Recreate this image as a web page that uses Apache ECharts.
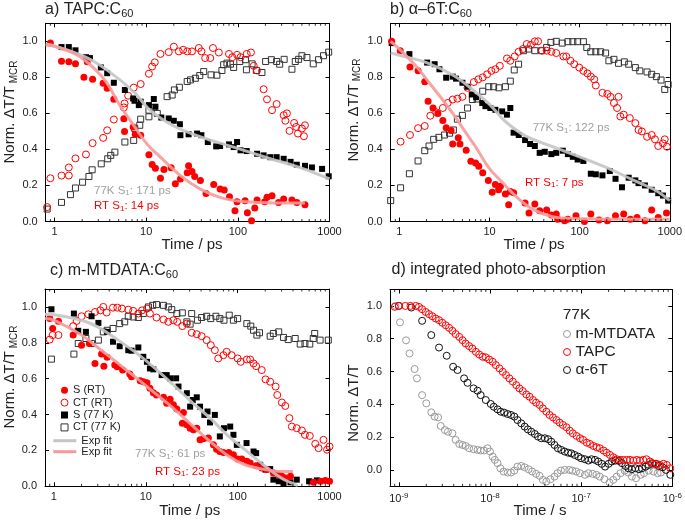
<!DOCTYPE html>
<html><head><meta charset="utf-8">
<script src="https://cdn.jsdelivr.net/npm/echarts@6/dist/echarts.min.js"></script>
<style>html,body{margin:0;padding:0;background:#fff}#c{width:685px;height:521px}</style>
</head><body><div id="c"></div>
<script>
// ---------- Panel a) TAPC:C60 (time in ps) ----------
const aSRT = [[0.9,0.99],[1.19,0.89],[1.43,0.886],[1.69,0.875],[2.09,0.80],[2.27,0.886],[2.6,0.79],[3.39,0.767],[3.75,0.74],[4.43,0.678],[5.7,0.57],[5.8,0.50],[7.2,0.525],[7.6,0.484],[8.7,0.478],[10.7,0.37],[11.6,0.317],[12.6,0.296],[14.3,0.24],[15.6,0.289],[18.7,0.298],[20.8,0.21],[23.6,0.236],[28,0.27],[29,0.31],[31.6,0.277],[33.8,0.25],[39,0.227],[45,0.156],[54.5,0.205],[64,0.18],[71,0.175],[81,0.138],[93,0.06],[98,0.11],[120,0.115],[127,0.048],[141,0.004],[153,0.075],[162,0.12],[196,0.11],[208,0.134],[236,0.143],[278,0.106],[316,0.125],[389,0.12],[440,0.106],[540,0.093]];
const aCTRT = [[0.83,0.08],[0.9,0.24],[1.19,0.255],[1.43,0.30],[1.43,0.255],[1.69,0.35],[2.2,0.372],[2.6,0.435],[3.39,0.464],[3.75,0.506],[4.43,0.566],[5.7,0.633],[5.8,0.655],[6.35,0.698],[7.3,0.743],[8.7,0.763],[10.7,0.82],[11.6,0.86],[12.4,0.883],[14.3,0.93],[17.6,0.94],[20,0.97],[22.7,0.944],[25.3,0.953],[28,0.944],[31.6,0.944],[37.5,0.963],[40,0.944],[44,0.907],[50,0.907],[53.5,0.963],[62,0.938],[80,0.93],[87,0.912],[98,0.925],[107,0.912],[125,0.93],[139,0.938],[149,0.864],[162,0.838],[191,0.734],[208,0.678],[236,0.618],[265,0.652],[316,0.59],[330,0.559],[343,0.60],[366,0.503],[411,0.547],[433,0.525],[452,0.488],[500,0.516],[526,0.473],[540,0.534]];
const aS77 = [[1.19,0.968],[1.43,0.968],[1.69,0.95],[2.2,0.912],[2.43,0.907],[3.2,0.855],[3.75,0.823],[4.43,0.77],[5.85,0.73],[7.2,0.683],[7.45,0.67],[8.3,0.646],[8.7,0.665],[10.7,0.646],[12.1,0.68],[12.6,0.637],[14.6,0.577],[17.6,0.572],[20,0.559],[23.3,0.54],[23.6,0.479],[29,0.484],[35.9,0.488],[40,0.479],[47,0.441],[58,0.417],[64,0.419],[80,0.428],[90,0.413],[98,0.441],[107,0.395],[125,0.391],[162,0.376],[191,0.367],[226,0.357],[265,0.357],[316,0.348],[376,0.331],[440,0.315],[540,0.309],[643,0.30],[830,0.292],[980,0.251]];
const aCT77 = [[0.83,0.069],[1.19,0.106],[1.49,0.149],[1.69,0.186],[2.02,0.218],[2.37,0.25],[2.57,0.287],[3.23,0.32],[3.8,0.348],[4.1,0.367],[4.55,0.385],[5.85,0.441],[7.3,0.45],[7.5,0.516],[8.5,0.534],[8.7,0.568],[10.7,0.581],[10.7,0.618],[12.1,0.633],[13.2,0.60],[16.9,0.693],[19.2,0.702],[20.3,0.73],[23,0.745],[28,0.777],[30.4,0.786],[34.4,0.795],[38.4,0.81],[42.4,0.832],[51,0.814],[59,0.812],[67,0.838],[70,0.87],[76,0.879],[83,0.873],[90,0.855],[105,0.888],[121,0.898],[124,0.842],[143,0.875],[159,0.838],[183,0.827],[201,0.888],[232,0.898],[265,0.888],[286,0.873],[320,0.90],[389,0.845],[423,0.888],[460,0.90],[500,0.92],[567,0.91],[665,0.875],[760,0.898],[860,0.92],[980,0.94]];
const aFit77 = [[0.8,0.985],[1,0.975],[2.1,0.916],[3.75,0.84],[7.3,0.72],[11,0.618],[20,0.53],[39,0.47],[90,0.413],[208,0.354],[470,0.30],[1000,0.236]];
const aFitRT = [[0.8,0.98],[1,0.972],[1.76,0.925],[2.7,0.85],[3.75,0.767],[5,0.655],[7.3,0.534],[10.2,0.43],[14.3,0.357],[23.6,0.255],[39,0.18],[64,0.134],[107,0.112],[208,0.104],[540,0.102]];

// ---------- Panel b) α-6T:C60 ----------
const bSRT = [[0.82,1.0],[1.02,0.948],[1.31,0.858],[1.61,0.836],[1.91,0.776],[2.08,0.667],[2.36,0.63],[2.67,0.60],[3.03,0.56],[3.3,0.52],[3.74,0.505],[3.9,0.43],[4.5,0.465],[4.7,0.43],[5.5,0.396],[6.2,0.335],[7.0,0.325],[7.6,0.307],[8.4,0.27],[9.7,0.228],[10.7,0.163],[11.6,0.206],[12.6,0.176],[13.2,0.196],[15,0.153],[16.3,0.093],[17,0.166],[18.5,0.159],[24.8,0.103],[27.4,0.047],[31.8,0.097],[36,0.06],[43,0.064],[48.5,0.036],[55,0.041],[57,0.013],[68,0.004],[74,0.013],[91,0.032],[113,0.0],[133,0.041],[164,0.009],[203,0.004],[250,0.032],[308,0.041],[366,0.013],[433,0.022],[530,0.004],[630,0.064],[745,0.022],[920,0.047]];
const bCTRT = [[0.79,0.419],[1.03,0.443],[1.31,0.48],[1.61,0.518],[1.91,0.53],[2.2,0.587],[2.56,0.606],[3.03,0.63],[3.44,0.658],[3.9,0.677],[4.4,0.682],[5.0,0.692],[5.7,0.742],[6.7,0.774],[7.5,0.789],[8.4,0.80],[9.4,0.817],[10.5,0.836],[11.6,0.845],[13.0,0.864],[15.6,0.905],[17,0.892],[19,0.916],[21,0.942],[23.4,0.957],[25.9,0.985],[28.8,0.98],[31.8,1.0],[34.6,1.0],[38.2,0.948],[43,0.948],[48.5,0.942],[55,0.935],[66,0.916],[71,0.916],[79,0.892],[87,0.873],[99,0.854],[110,0.836],[122,0.822],[133,0.804],[145,0.789],[151,0.755],[179,0.714],[203,0.708],[220,0.692],[240,0.658],[260,0.63],[270,0.692],[283,0.583],[308,0.593],[360,0.574],[415,0.546],[450,0.508],[490,0.50],[560,0.47],[630,0.48],[685,0.456],[745,0.419],[840,0.434],[880,0.456],[930,0.415]];
const bS77 = [[0.82,0.99],[1.29,0.929],[2.03,0.882],[2.46,0.873],[2.78,0.845],[3.3,0.798],[3.9,0.804],[4.25,0.793],[5.0,0.77],[5.7,0.748],[6.35,0.705],[7.1,0.69],[8.3,0.658],[9.0,0.64],[10.2,0.63],[11.6,0.62],[13.8,0.611],[15.6,0.593],[17,0.63],[18.5,0.493],[21.1,0.48],[24.8,0.452],[28.2,0.43],[31.8,0.419],[36,0.381],[41,0.387],[48.5,0.374],[55,0.381],[65,0.393],[74,0.374],[84,0.359],[95,0.344],[110,0.336],[133,0.265],[151,0.262],[179,0.256],[216,0.28],[250,0.237],[295,0.19],[350,0.243],[415,0.228],[450,0.213],[530,0.20],[630,0.176],[745,0.157],[840,0.144],[960,0.116]];
const bCT77 = [[0.8,0.116],[1.03,0.187],[1.29,0.265],[1.61,0.336],[1.91,0.393],[2.13,0.419],[2.4,0.456],[2.74,0.467],[3.16,0.48],[3.6,0.49],[3.97,0.508],[4.4,0.568],[5.0,0.589],[5.7,0.63],[6.45,0.677],[7.3,0.68],[8.4,0.723],[9.8,0.748],[11.1,0.748],[12.7,0.742],[15,0.748],[17,0.779],[18.8,0.841],[21,0.873],[23.8,0.948],[27,0.957],[31.8,0.948],[37.8,0.948],[43,0.966],[48,0.994],[55,1.0],[64,0.99],[74,0.998],[84,0.998],[95,0.998],[110,0.998],[120,0.966],[133,0.942],[151,0.942],[171,0.942],[194,0.935],[211,0.892],[240,0.90],[270,0.878],[313,0.886],[350,0.873],[415,0.854],[465,0.836],[560,0.83],[630,0.817],[710,0.804],[800,0.785],[880,0.733],[960,0.76]];
const bFit77 = [[0.8,0.935],[1,0.923],[2,0.882],[4,0.81],[7,0.718],[10,0.65],[15,0.555],[25,0.475],[50,0.415],[100,0.359],[200,0.299],[400,0.228],[700,0.172],[1000,0.116]];
const bFitRT = [[0.8,1.0],[1,0.957],[1.5,0.867],[2,0.789],[3,0.677],[4,0.593],[5.5,0.49],[7,0.415],[10,0.293],[15,0.2],[20,0.135],[30,0.069],[50,0.026],[80,0.017],[200,0.013],[1000,0.013]];

// ---------- Panel c) m-MTDATA:C60 ----------
const cSRT = [[0.9,0.935],[0.97,0.88],[1.12,0.92],[1.62,0.843],[2.0,0.787],[2.43,0.796],[2.8,0.685],[3.3,0.737],[3.5,0.67],[3.8,0.72],[4.6,0.676],[4.9,0.667],[5.6,0.648],[6.7,0.626],[7.0,0.611],[8.7,0.589],[9.4,0.583],[10.3,0.578],[11.1,0.546],[12.1,0.522],[13.1,0.509],[15.6,0.496],[16.9,0.463],[18.4,0.485],[20,0.454],[21.8,0.431],[25.7,0.411],[25,0.352],[28,0.343],[30.4,0.324],[33,0.315],[35.9,0.324],[39,0.259],[42.4,0.265],[48,0.269],[54.5,0.231],[59,0.207],[64,0.194],[70,0.189],[80,0.189],[90,0.176],[100,0.152],[111,0.152],[126,0.139],[137,0.13],[159,0.115],[183,0.102],[208,0.093],[245,0.074],[280,0.065],[303,0.056],[330,0.046],[376,0.056],[670,0.022],[800,0.028],[900,0.033],[1000,0.028]];
const cCTRT = [[0.9,0.818],[0.97,0.843],[1.12,0.843],[1.62,0.893],[1.77,0.922],[2.0,0.948],[2.37,0.959],[2.8,0.972],[3.2,0.981],[3.45,1.0],[3.75,0.969],[4.4,0.996],[4.9,0.996],[5.5,0.991],[6.45,0.985],[7.3,0.978],[8.3,0.963],[9.1,0.981],[10.3,0.991],[11.1,0.963],[13.1,0.941],[15.6,0.93],[17.6,0.917],[20,0.926],[22,0.917],[25,0.893],[28,0.907],[31.6,0.856],[35.9,0.848],[40.6,0.837],[46,0.815],[51,0.787],[56.5,0.759],[61.5,0.713],[70,0.731],[76,0.75],[86,0.731],[100,0.713],[108,0.694],[126,0.707],[137,0.707],[149,0.685],[159,0.67],[183,0.648],[201,0.596],[226,0.583],[259,0.556],[270,0.509],[303,0.467],[330,0.448],[366,0.38],[389,0.333],[440,0.324],[500,0.311],[540,0.287],[610,0.281],[700,0.237],[760,0.213],[860,0.259],[940,0.204],[1000,0.222]];
const cS77 = [[0.94,0.987],[1.65,0.963],[1.84,0.867],[2.23,0.861],[2.57,0.948],[3.05,0.911],[3.8,0.861],[4.4,0.806],[5.2,0.781],[6.45,0.759],[7.0,0.756],[8.3,0.774],[9.4,0.722],[10.3,0.694],[11.1,0.657],[12.1,0.652],[14.9,0.62],[16.9,0.62],[18.4,0.602],[21.4,0.602],[22.7,0.556],[28,0.519],[30.4,0.444],[32.5,0.481],[35.9,0.496],[39,0.444],[43.4,0.398],[47,0.417],[50,0.356],[56.5,0.398],[64,0.278],[71,0.324],[83,0.333],[90,0.287],[98,0.231],[125,0.241],[149,0.194],[159,0.185],[176,0.12],[201,0.093],[226,0.096],[245,0.037],[280,0.028],[316,0.018],[376,0.022],[440,0.037],[600,0.028],[730,0.033]];
const cCT77 = [[0.94,0.709],[1.65,0.737],[1.84,0.796],[2.23,0.824],[2.57,0.796],[3.05,0.815],[3.45,0.861],[3.8,0.87],[4.4,0.88],[5.2,0.907],[5.9,0.917],[6.45,0.948],[7.3,0.944],[8.3,0.941],[9.4,0.963],[10.7,1.0],[11.9,1.009],[13.1,1.013],[15.6,1.009],[17.6,1.0],[19.2,0.985],[21.8,0.963],[25,0.967],[28,0.917],[30.4,0.904],[31.6,0.963],[36.5,0.926],[40.6,0.941],[46,0.948],[51,0.935],[58,0.948],[64,0.935],[71,0.926],[81,0.954],[90,0.926],[100,0.935],[126,0.907],[139,0.893],[149,0.87],[162,0.843],[173,0.856],[226,0.837],[245,0.852],[280,0.861],[316,0.83],[355,0.818],[423,0.824],[480,0.793],[540,0.796],[610,0.793],[665,0.824],[690,0.852],[790,0.815],[970,0.815]];
const cFit77 = [[0.8,0.959],[1,0.957],[2,0.926],[3,0.889],[5,0.815],[8,0.741],[12,0.667],[20,0.565],[30,0.481],[50,0.38],[80,0.278],[120,0.204],[200,0.111],[300,0.046],[450,0.004]];
const cFitRT = [[0.8,0.935],[1,0.926],[2,0.843],[3,0.774],[5,0.685],[8,0.602],[12,0.528],[20,0.435],[30,0.352],[50,0.25],[80,0.167],[120,0.12],[200,0.093],[300,0.083],[400,0.083]];

// ---------- Panel d) integrated photo-absorption (time in s) ----------
const dMTDATA = [[9.2e-10,1.0],[1.03e-9,0.90],[1.2e-9,0.79],[1.31e-9,0.71],[1.49e-9,0.615],[1.58e-9,0.558],[1.8e-9,0.456],[2.0e-9,0.406],[2.27e-9,0.351],[2.47e-9,0.325],[2.7e-9,0.32],[2.88e-9,0.268],[3.2e-9,0.243],[3.46e-9,0.233],[3.87e-9,0.223],[4.2e-9,0.183],[4.6e-9,0.158],[5.0e-9,0.152],[5.4e-9,0.146],[5.9e-9,0.132],[6.6e-9,0.126],[7.3e-9,0.122],[7.9e-9,0.118],[8.6e-9,0.118],[9.4e-9,0.132],[1.0e-8,0.112],[1.07e-8,0.081],[1.13e-8,0.061],[1.21e-8,0.041],[1.3e-8,0.01],[1.41e-8,-0.01],[1.56e-8,-0.016],[1.7e-8,-0.016],[1.85e-8,-0.004],[2.0e-8,0.02],[2.2e-8,0.024],[2.4e-8,0.016],[2.65e-8,0.004],[2.9e-8,-0.01],[3.2e-8,-0.024],[3.5e-8,-0.036],[3.8e-8,-0.061],[4.15e-8,-0.071],[4.6e-8,-0.057],[5.1e-8,-0.041],[5.5e-8,-0.02],[6.0e-8,-0.004],[6.6e-8,0.0],[7.4e-8,0.0],[8.0e-8,-0.004],[8.8e-8,-0.01],[9.7e-8,-0.02],[1.1e-7,-0.03],[1.2e-7,-0.02],[1.34e-7,-0.024],[1.47e-7,-0.03],[1.6e-7,-0.041],[1.8e-7,-0.057],[2.05e-7,-0.077],[2.25e-7,-0.061],[2.45e-7,-0.041],[2.7e-7,-0.02],[3.0e-7,-0.004],[3.3e-7,-0.016],[3.6e-7,-0.041],[4.0e-7,-0.051],[4.5e-7,-0.03],[4.9e-7,-0.02],[5.5e-7,-0.004],[6.2e-7,-0.01],[6.9e-7,-0.02],[7.5e-7,-0.016]];
const dTAPC = [[9.0e-10,0.994],[1.0e-9,1.0],[1.18e-9,1.0],[1.34e-9,1.0],[1.53e-9,1.0],[1.66e-9,0.994],[1.8e-9,0.98],[1.97e-9,0.963],[2.14e-9,0.95],[2.33e-9,0.937],[2.54e-9,0.923],[2.76e-9,0.913],[3.0e-9,0.897],[3.27e-9,0.882],[3.56e-9,0.866],[3.87e-9,0.848],[4.2e-9,0.828],[4.6e-9,0.811],[5.0e-9,0.791],[5.4e-9,0.771],[5.9e-9,0.755],[6.4e-9,0.74],[7.0e-9,0.72],[7.6e-9,0.704],[8.3e-9,0.69],[9.0e-9,0.686],[9.8e-9,0.673],[1.07e-8,0.659],[1.16e-8,0.639],[1.27e-8,0.619],[1.38e-8,0.598],[1.5e-8,0.578],[1.63e-8,0.558],[1.78e-8,0.538],[1.94e-8,0.517],[2.1e-8,0.497],[2.29e-8,0.481],[2.5e-8,0.46],[2.72e-8,0.446],[2.96e-8,0.426],[3.2e-8,0.41],[3.5e-8,0.396],[3.8e-8,0.375],[4.15e-8,0.355],[4.5e-8,0.335],[4.9e-8,0.32],[5.35e-8,0.304],[5.8e-8,0.288],[6.3e-8,0.274],[6.9e-8,0.26],[7.5e-8,0.239],[8.1e-8,0.223],[8.9e-8,0.207],[9.7e-8,0.193],[1.05e-7,0.183],[1.15e-7,0.166],[1.25e-7,0.158],[1.36e-7,0.146],[1.48e-7,0.138],[1.6e-7,0.132],[1.76e-7,0.118],[1.9e-7,0.105],[2.07e-7,0.091],[2.25e-7,0.077],[2.45e-7,0.065],[2.67e-7,0.061],[2.9e-7,0.061],[3.16e-7,0.061],[3.44e-7,0.061],[3.74e-7,0.057],[4.07e-7,0.061],[4.4e-7,0.057],[4.8e-7,0.061],[5.2e-7,0.065],[5.7e-7,0.051],[6.2e-7,0.037],[6.7e-7,0.037],[7.3e-7,0.03],[8.0e-7,0.037],[8.7e-7,0.03],[9.5e-7,0.01]];
const d6T = [[1.0e-9,1.0],[1.37e-9,0.99],[1.8e-9,0.909],[2.27e-9,0.822],[2.76e-9,0.746],[3.35e-9,0.696],[3.94e-9,0.629],[4.4e-9,0.609],[5.2e-9,0.558],[5.67e-9,0.531],[6.6e-9,0.497],[7.3e-9,0.483],[7.9e-9,0.456],[9.0e-9,0.426],[1.02e-8,0.402],[1.1e-8,0.385],[1.21e-8,0.369],[1.31e-8,0.355],[1.43e-8,0.349],[1.56e-8,0.341],[1.7e-8,0.335],[1.85e-8,0.325],[2.0e-8,0.304],[2.2e-8,0.284],[2.4e-8,0.264],[2.6e-8,0.247],[2.84e-8,0.233],[3.1e-8,0.219],[3.36e-8,0.203],[3.65e-8,0.193],[4.0e-8,0.193],[4.35e-8,0.187],[4.7e-8,0.172],[5.1e-8,0.152],[5.55e-8,0.132],[6.05e-8,0.122],[6.6e-8,0.112],[7.2e-8,0.105],[7.8e-8,0.101],[8.5e-8,0.091],[9.3e-8,0.081],[1.0e-7,0.071],[1.1e-7,0.065],[1.2e-7,0.057],[1.3e-7,0.065],[1.42e-7,0.061],[1.54e-7,0.051],[1.68e-7,0.037],[1.83e-7,0.02],[2.0e-7,0.037],[2.17e-7,0.051],[2.37e-7,0.057],[2.58e-7,0.055],[2.8e-7,0.041],[3.05e-7,0.024],[3.3e-7,0.01],[3.6e-7,0.004],[3.93e-7,0.01],[4.3e-7,0.004],[4.65e-7,0.01],[5.1e-7,0.02],[5.5e-7,0.03],[6.0e-7,0.041],[6.55e-7,0.037],[7.1e-7,0.024],[7.8e-7,0.016],[8.5e-7,0.0],[9.5e-7,-0.03]];

// ---------- axes ----------
const xRanges = [[0.8, 1000], [0.8, 1000], [0.8, 1000], [8e-10, 1e-6]];
const yRanges = [[0, 1.1], [0, 1.1], [0, 1.1], [-0.1, 1.1]];
const minorFactors = [2, 3, 4, 5, 6, 7, 8, 9];
const decadesPs = [0.1, 1, 10, 100];
const decadesS = [1e-10, 1e-9, 1e-8, 1e-7];

const FONT = '"Liberation Sans", Arial, Helvetica, sans-serif';
const RED = '#ff0000', GRAYFIT = '#c4c4c4', PINKFIT = '#f59a9a', GRAYTXT = '#a0a0a0';

const grids = [
  {left: 45.7, top: 23.3, width: 283.8, height: 198.2},
  {left: 390.7, top: 23.3, width: 282.3, height: 198.2},
  {left: 45, top: 289, width: 284.5, height: 197.3},
  {left: 390, top: 289.5, width: 282.5, height: 196.8}
];

function fmtPs(v) { return String(Math.round(v)); }
function fmtExp(v) { const e = Math.round(Math.log10(v)); return '{b|10}{e|' + e + '}'; }

const xAxes = [], yAxes = [];
for (let i = 0; i < 4; i++) {
  ['bottom', 'top'].forEach(pos => {
    xAxes.push({
      type: 'log', logBase: 10, gridIndex: i, position: pos,
      min: xRanges[i][0], max: xRanges[i][1],
      axisLine: {show: true, onZero: false, lineStyle: {color: '#000', width: 1}},
      axisTick: {show: true, inside: true, length: 4, lineStyle: {color: '#000', width: 1}},
      splitLine: {show: false}, minorTick: {show: false},
      axisLabel: {
        show: pos === 'bottom', showMinLabel: false, margin: 5,
        fontSize: 11, fontFamily: FONT, color: '#222',
        formatter: i === 3 ? fmtExp : fmtPs,
        rich: {b: {fontSize: 11, fontFamily: FONT, color: '#222'},
               e: {fontSize: 8, fontFamily: FONT, color: '#222', padding: [0, 0, 8, 0]}}
      }
    });
  });
  ['left', 'right'].forEach(pos => {
    yAxes.push({
      type: 'value', gridIndex: i, position: pos,
      min: yRanges[i][0], max: yRanges[i][1], splitNumber: 5,
      axisLine: {show: true, onZero: false, lineStyle: {color: '#000', width: 1}},
      axisTick: {show: true, inside: true, length: 4, lineStyle: {color: '#000', width: 1}},
      splitLine: {show: false},
      axisLabel: {
        show: pos === 'left', showMaxLabel: false, showMinLabel: i !== 3,
        margin: 8, fontSize: 11, fontFamily: FONT, color: '#222',
        formatter: v => v.toFixed(1)
      }
    });
  });
}

// ---------- series helpers ----------
function sc(name, data, gi, symbol, size, fill, stroke, z) {
  return {
    type: 'scatter', name, data, xAxisIndex: 2 * gi, yAxisIndex: 2 * gi,
    symbol, symbolSize: size, silent: true, z: z || 2,
    itemStyle: {color: fill, borderColor: stroke || fill, borderWidth: stroke ? 1 : 0, opacity: 1}
  };
}
function fit(name, data, gi, color) {
  return {
    type: 'line', name, data, xAxisIndex: 2 * gi, yAxisIndex: 2 * gi,
    smooth: 0.35, symbol: 'none', silent: true, z: 4,
    lineStyle: {color, width: 3, opacity: 0.9}, itemStyle: {color}
  };
}
function minorTicks(gi, decades) {
  const lo = xRanges[gi][0], hi = xRanges[gi][1];
  const vals = [];
  decades.forEach(d => minorFactors.forEach(f => { const v = f * d; if (v > lo * 1.0001 && v < hi) vals.push(v); }));
  const y0 = yRanges[gi][0], y1 = yRanges[gi][1];
  const base = {type: 'scatter', xAxisIndex: 2 * gi, yAxisIndex: 2 * gi, symbol: 'rect',
    symbolSize: [1, 2.5], silent: true, clip: false, z: 5, itemStyle: {color: '#000'}};
  return [
    Object.assign({}, base, {name: '_mb' + gi, data: vals.map(v => [v, y0]), symbolOffset: [0, -1.25]}),
    Object.assign({}, base, {name: '_mt' + gi, data: vals.map(v => [v, y1]), symbolOffset: [0, 1.25]})
  ];
}

const HOLLOW = 'rgba(0,0,0,0)';
const OSQ = '#333333';
const series = [
  // a
  sc('a-CT77', aCT77, 0, 'rect', 6, HOLLOW, OSQ),
  sc('a-CTRT', aCTRT, 0, 'circle', 7, HOLLOW, RED),
  sc('a-S77', aS77, 0, 'rect', 6, '#000'),
  sc('a-SRT', aSRT, 0, 'circle', 7, RED),
  fit('a-fit77', aFit77, 0, GRAYFIT),
  fit('a-fitRT', aFitRT, 0, PINKFIT),
  // b
  sc('b-CT77', bCT77, 1, 'rect', 6, HOLLOW, OSQ),
  sc('b-CTRT', bCTRT, 1, 'circle', 7, HOLLOW, RED),
  sc('b-S77', bS77, 1, 'rect', 6, '#000'),
  sc('b-SRT', bSRT, 1, 'circle', 7, RED),
  fit('b-fit77', bFit77, 1, GRAYFIT),
  fit('b-fitRT', bFitRT, 1, PINKFIT),
  // c
  sc('CT (77 K)', cCT77, 2, 'rect', 6, HOLLOW, OSQ),
  sc('CT (RT)', cCTRT, 2, 'circle', 7, HOLLOW, RED),
  sc('S (77 K)', cS77, 2, 'rect', 6, '#000'),
  sc('S (RT)', cSRT, 2, 'circle', 7, RED),
  fit('Exp fit', cFit77, 2, GRAYFIT),
  fit('Exp fit ', cFitRT, 2, PINKFIT),
  // d
  sc('m-MTDATA', dMTDATA, 3, 'circle', 7, HOLLOW, '#9a9a9a'),
  sc('α-6T', d6T, 3, 'circle', 7, HOLLOW, '#111'),
  sc('TAPC', dTAPC, 3, 'circle', 7, HOLLOW, RED),
].concat(minorTicks(0, decadesPs), minorTicks(1, decadesPs), minorTicks(2, decadesPs), minorTicks(3, decadesS));

// ---------- texts ----------
function T(x, y, text, rich, opt) {
  opt = opt || {};
  return {
    type: 'text', x, y, rotation: opt.rot || 0, silent: true, z: 100,
    style: {
      legacy: false, text, rich,
      fontSize: opt.size || 12, fontFamily: FONT, fill: opt.fill || '#222',
      align: opt.align || 'left', verticalAlign: 'middle',
      textAlign: opt.align || 'left', textVerticalAlign: 'middle'
    }
  };
}
function titleRich() {
  return {m: {fontSize: 16, fontFamily: FONT, fill: '#222'},
          s: {fontSize: 11, fontFamily: FONT, fill: '#222', padding: [7, 0, 0, 0]}};
}
function ynameRich() {
  return {m: {fontSize: 15, fontFamily: FONT, fill: '#222'},
          s: {fontSize: 10, fontFamily: FONT, fill: '#222', padding: [8, 0, 0, 0]}};
}
function annRich(col) {
  return {m: {fontSize: 11.5, fontFamily: FONT, fill: col},
          s: {fontSize: 8, fontFamily: FONT, fill: col, padding: [5, 0, 0, 0]}};
}
const R90 = Math.PI / 2;
const graphics = [
  T(45, 10, '{m|a) TAPC:C}{s|60}', titleRich()),
  T(390, 10, '{m|b) α–6T:C}{s|60}', titleRich()),
  T(50, 271, '{m|c) m-MTDATA:C}{s|60}', titleRich()),
  T(391.5, 270, '{m|d) integrated photo-absorption}', titleRich()),

  T(10, 112, '{m|Norm. ΔT/T}{s| MCR}', ynameRich(), {rot: R90, align: 'center'}),
  T(353.5, 110, '{m|Norm. ΔT/T}{s| MCR}', ynameRich(), {rot: R90, align: 'center'}),
  T(10, 377, '{m|Norm. ΔT/T}{s| MCR}', ynameRich(), {rot: R90, align: 'center'}),
  T(354, 403, '{m|Norm. ΔT/T}', ynameRich(), {rot: R90, align: 'center'}),

  T(192, 245, '{m|Time / ps}', ynameRich(), {align: 'center'}),
  T(534, 245, '{m|Time / ps}', ynameRich(), {align: 'center'}),
  T(189.7, 510.5, '{m|Time / ps}', ynameRich(), {align: 'center'}),
  T(540, 511, '{m|Time / s}', ynameRich(), {align: 'center'}),

  T(94, 190.7, '{m|77K S}{s|1}{m|: 171 ps}', annRich(GRAYTXT)),
  T(94, 206, '{m|RT S}{s|1}{m|: 14 ps}', annRich(RED)),
  T(532.7, 128.3, '{m|77K S}{s|1}{m|: 122 ps}', annRich(GRAYTXT)),
  T(525, 182.7, '{m|RT S}{s|1}{m|: 7 ps}', annRich(RED)),
  T(135, 454.3, '{m|77K S}{s|1}{m|: 61 ps}', annRich(GRAYTXT)),
  T(155, 471.7, '{m|RT S}{s|1}{m|: 23 ps}', annRich(RED)),

  T(562.7, 315, '{m|77K}', {m: {fontSize: 15.5, fontFamily: FONT, fill: '#222'}})
];

const legends = [
  {
    left: 60.5, top: 384, orient: 'vertical', itemWidth: 7, itemHeight: 7, itemGap: 0,
    selectedMode: false, padding: 0,
    textStyle: {fontSize: 11, lineHeight: 12.4, fontFamily: FONT, color: '#222'},
    data: [
      {name: 'S (RT)', icon: 'circle', itemStyle: {color: RED, borderWidth: 0}},
      {name: 'CT (RT)', icon: 'circle', itemStyle: {color: HOLLOW, borderColor: RED, borderWidth: 1}},
      {name: 'S (77 K)', icon: 'rect', itemStyle: {color: '#000', borderWidth: 0}},
      {name: 'CT (77 K)', icon: 'rect', itemStyle: {color: HOLLOW, borderColor: OSQ, borderWidth: 1}}
    ]
  },
  {
    left: 53.3, top: 435.2, orient: 'vertical', itemWidth: 23, itemHeight: 3, itemGap: 0,
    selectedMode: false, padding: 0,
    textStyle: {fontSize: 11, lineHeight: 11, fontFamily: FONT, color: '#222'},
    data: [
      {name: 'Exp fit', icon: 'rect', itemStyle: {color: GRAYFIT}},
      {name: 'Exp fit ', icon: 'rect', itemStyle: {color: PINKFIT}}
    ]
  },
  {
    left: 563, top: 325, orient: 'vertical', itemWidth: 7, itemHeight: 7, itemGap: 0,
    selectedMode: false, padding: 0,
    textStyle: {fontSize: 15.5, lineHeight: 18, fontFamily: FONT, color: '#222'},
    data: [
      {name: 'm-MTDATA', icon: 'circle', itemStyle: {color: HOLLOW, borderColor: '#9a9a9a', borderWidth: 1}},
      {name: 'TAPC', icon: 'circle', itemStyle: {color: HOLLOW, borderColor: RED, borderWidth: 1}},
      {name: 'α-6T', icon: 'circle', itemStyle: {color: HOLLOW, borderColor: '#111', borderWidth: 1}}
    ]
  }
];

const chart = echarts.init(document.getElementById('c'), null, {renderer: 'canvas'});
chart.setOption({
  animation: false,
  backgroundColor: '#fff',
  grid: grids,
  xAxis: xAxes,
  yAxis: yAxes,
  legend: legends,
  series,
  graphic: {elements: graphics}
});
</script>
</body></html>
